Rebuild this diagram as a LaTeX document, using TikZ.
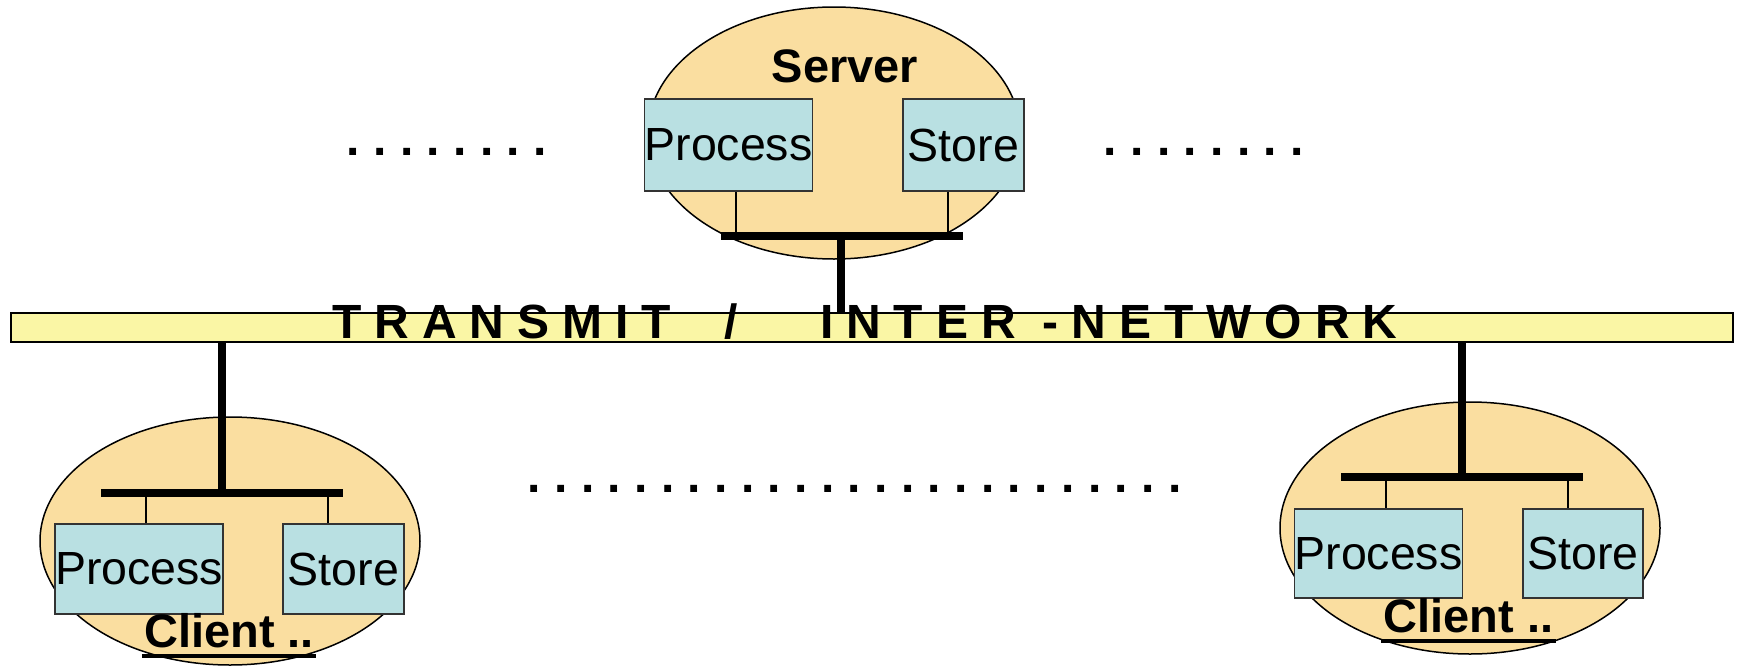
\documentclass[tikz,border=0pt]{standalone}
\usepackage{fontspec}
\setmainfont{Liberation Sans}
\newfontfamily\busfont[LetterSpace=27]{Liberation Sans}
\usetikzlibrary{shapes.geometric}

\definecolor{hostfill}{RGB}{250,222,160}
\definecolor{unitfill}{RGB}{185,224,226}
\definecolor{busfill}{RGB}{250,246,165}

\begin{document}
\begin{tikzpicture}[x=1pt,y=-1pt,
  host/.style={ellipse, draw=black, line width=1.5pt, fill=hostfill, inner sep=0pt},
  unit/.style={rectangle, draw=black!80, line width=1.5pt, fill=unitfill, inner sep=0pt,
               font=\fontsize{46.5}{50}\selectfont},
  hostname/.style={inner sep=0pt, anchor=base, font=\fontsize{47}{50}\selectfont\bfseries},
  bus/.style={rectangle, draw=black, line width=2pt, fill=busfill, inner sep=0pt},
  hub/.style={line width=8pt},
  trunk/.style={line width=8pt},
  tap/.style={line width=1.5pt},
  dotrow/.style={inner sep=0pt, anchor=base west, font=\frenchspacing\fontsize{48}{50}\selectfont\bfseries},
  uline/.style={line width=3.5pt}
]
\useasboundingbox (0,0) rectangle (1738,667);

% hosts
\node[host, minimum width=372pt, minimum height=252pt] (server) at (834,133) {};
\node[host, minimum width=380pt, minimum height=248pt] (clientL) at (230,541) {};
\node[host, minimum width=380pt, minimum height=252pt] (clientR) at (1470,528) {};

% shared network bus
\node[bus, minimum width=1722pt, minimum height=29pt] (bus) at (872,327.5) {};

% hub coordinates
\coordinate (shub)  at (841,236);
\coordinate (shubL) at (721,236);
\coordinate (shubR) at (963,236);
\coordinate (stapP) at (736,236);
\coordinate (stapS) at (948,236);

\coordinate (lhub)  at (222,493);
\coordinate (lhubL) at (101,493);
\coordinate (lhubR) at (343,493);
\coordinate (ltapP) at (146,493);
\coordinate (ltapS) at (328,493);

\coordinate (rhub)  at (1462,477);
\coordinate (rhubL) at (1341,477);
\coordinate (rhubR) at (1583,477);
\coordinate (rtapP) at (1386,477);
\coordinate (rtapS) at (1568,477);

% trunks to the bus
\draw[trunk] (shub) -- (shub |- bus.north);
\draw[trunk] (lhub) -- (lhub |- bus.south);
\draw[trunk] (rhub) -- (rhub |- bus.south);

% hub bars
\draw[hub] (shubL) -- (shubR);
\draw[hub] (lhubL) -- (lhubR);
\draw[hub] (rhubL) -- (rhubR);

% units
\node[unit, minimum width=167pt, minimum height=92pt] (sproc)  at (728.5,145) {Process};
\node[unit, minimum width=121pt, minimum height=92pt] (sstore) at (963.5,145) {Store};
\node[unit, minimum width=166pt, minimum height=90pt] (lproc)  at (139,569) {Process};
\node[unit, minimum width=121pt, minimum height=90pt] (lstore) at (343.5,569) {Store};
\node[unit, minimum width=167pt, minimum height=89pt] (rproc)  at (1378.5,553.5) {Process};
\node[unit, minimum width=120pt, minimum height=89pt] (rstore) at (1583,553.5) {Store};

% taps from hubs to units
\draw[tap] (stapP) -- (stapP |- sproc.south);
\draw[tap] (stapS) -- (stapS |- sstore.south);
\draw[tap] (ltapP) -- (ltapP |- lproc.north);
\draw[tap] (ltapS) -- (ltapS |- lstore.north);
\draw[tap] (rtapP) -- (rtapP |- rproc.north);
\draw[tap] (rtapS) -- (rtapS |- rstore.north);

% host names
\node[hostname] (sname) at (845,82) {Server};
\node[hostname] (lname) at (229,647) {Client ..};
\node[hostname] (rname) at (1468.5,632) {Client ..};
\draw[uline] ([xshift=-2pt,yshift=-9pt]lname.base west) -- ([xshift=2pt,yshift=-9pt]lname.base east);
\draw[uline] ([xshift=-2pt,yshift=-9pt]rname.base west) -- ([xshift=2pt,yshift=-9pt]rname.base east);

% bus caption
\node[inner sep=0pt, anchor=base west, font=\busfont\fontsize{48}{50}\selectfont\bfseries] (buslabel) at (332,338)
  {TRANSMIT\hspace{54.1pt}/\hspace{81.7pt}INTER\hspace{27pt}-NETWORK};

% ellipsis rows
\node[dotrow] (dotsL) at (346.6,155.5) {. . . . . . . .};
\node[dotrow] (dotsR) at (1103.6,155.5) {. . . . . . . .};
\node[dotrow] (dotsM) at (527.6,492) {. . . . . . . . . . . . . . . . . . . . . . . . .};
\end{tikzpicture}
\end{document}
